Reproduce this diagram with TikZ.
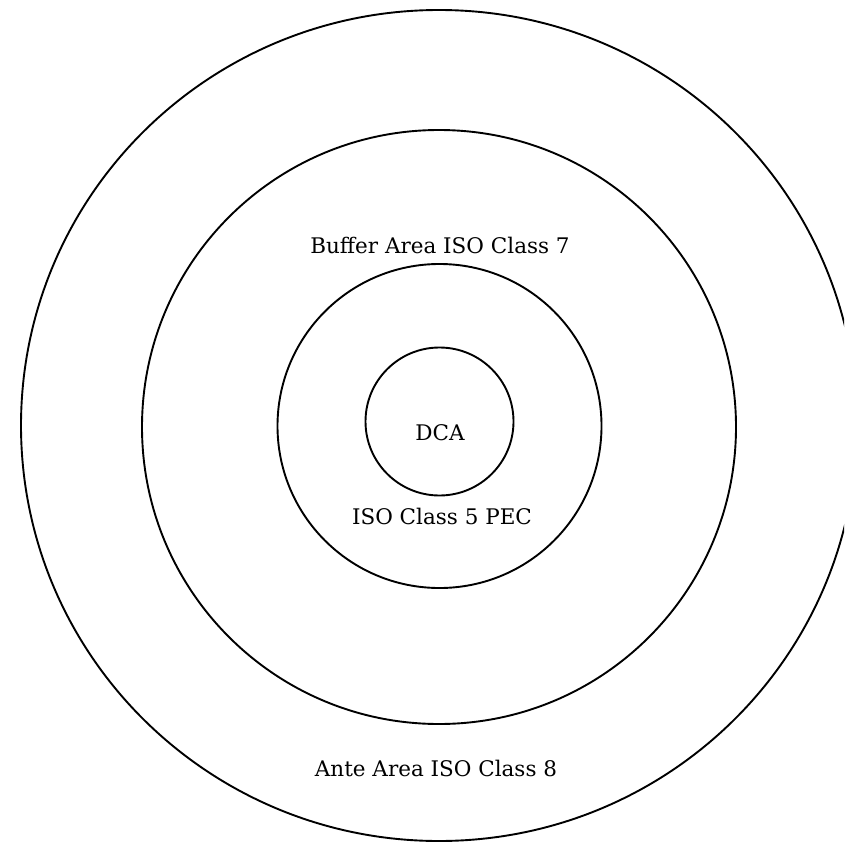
\documentclass[tikz,border=0pt]{standalone}
\usepackage{fontspec}
\setmainfont{DejaVu Serif}
\usetikzlibrary{shapes.geometric}
\tikzset{
  ring/.style={draw=black, line width=1.9pt, inner sep=0pt, outer sep=0pt},
  lbl/.style={font=\fontsize{21.5}{25}\selectfont, text=black, inner sep=0pt}
}
\begin{document}
\begin{tikzpicture}[x=1pt,y=-1pt]
\useasboundingbox (0,0) rectangle (844,845);
\clip (0,0) rectangle (844,845);
\node[ring, ellipse, minimum width=836pt, minimum height=831pt] (ante) at (439,425.5) {};
\node[ring, circle, minimum size=594pt] (buffer) at (439,427) {};
\node[ring, circle, minimum size=324pt] (pec) at (439.5,426) {};
\node[ring, circle, minimum size=148pt] (dca) at (439.5,421.5) {};
\node[lbl] (tbuffer) at (440,245) {Buffer Area ISO Class 7};
\node[lbl] (tdca) at (440,433) {DCA};
\node[lbl] (tpec) at (442,516) {ISO Class 5 PEC};
\node[lbl] (tante) at (436,768) {Ante Area ISO Class 8};
\end{tikzpicture}
\end{document}
